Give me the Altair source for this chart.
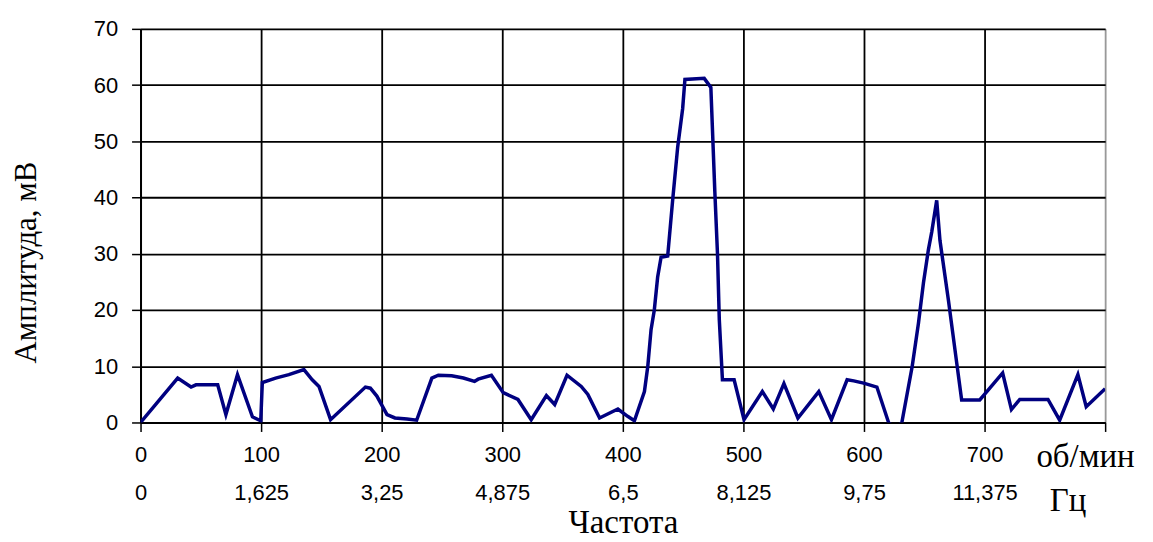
import altair as alt
import pandas as pd

# Frequency (rpm) and amplitude (mV)
freq_rpm = [0, 30.8, 41.9, 46, 64, 70.8, 80.4, 92.8, 99.7, 101, 112, 123, 135.5, 142.4, 148, 157.6,
            186.5, 190.6, 196, 204.4, 211, 221, 229, 241.6, 247, 258, 267.8, 277, 280, 291, 300.8,
            313, 324, 336.6, 343.5, 353.7, 365.5, 371, 380.7, 395.9, 404, 409.6, 417.9, 420.7,
            423.4, 426.1, 428.9, 431.7, 437.2, 441.3, 445.5, 449.6, 451.5, 467.5, 473, 476.3,
            478.5, 480, 482.6, 492.3, 500.5, 515.7, 524.8, 533.6, 545.2, 562.5, 573, 586, 591.5,
            599.7, 610.7, 620.4, 626, 631.4, 640, 645.2, 649.3, 653.4, 656.2, 660.3, 663, 670,
            676.9, 681, 696, 700.3, 715, 722.3, 729.2, 752.6, 762.3, 777.4, 784.3, 800]
amplitude = [0, 7.9, 6.3, 6.7, 6.7, 1.4, 8.5, 1.0, 0.3, 7.1, 7.9, 8.5, 9.4, 7.6, 6.4, 0.5,
             6.3, 6.1, 4.7, 1.4, 0.8, 0.6, 0.4, 7.9, 8.4, 8.3, 7.9, 7.3, 7.7, 8.4, 5.3,
             4.1, 0.5, 4.8, 3.2, 8.4, 6.4, 5.0, 0.8, 2.4, 1.1, 0.3, 5.5, 10,
             16.5, 20, 25.9, 29.4, 29.6, 39.5, 49, 55.8, 61, 61.2, 59.6, 41,
             30, 18.3, 7.6, 7.6, 0.5, 5.5, 2.4, 6.9, 0.8, 5.5, 0.5, 7.6, 7.4,
             7.0, 6.3, 0, -1, 0, 10, 17.7, 24.8, 30.7, 33.9, 39.5, 32.4, 21.8,
             10.6, 4.0, 4.0, 5.1, 8.8, 2.3, 4.1, 4.1, 0.4, 8.5, 2.8, 6.0]

rpm_ticks = [0, 100, 200, 300, 400, 500, 600, 700, 800]
rpm_labels = ["0", "100", "200", "300", "400", "500", "600", "700", ""]
hz_labels = ["0", "1,625", "3,25", "4,875", "6,5", "8,125", "9,75", "11,375", ""]
y_ticks = [0, 10, 20, 30, 40, 50, 60, 70]

unit_text = ["об/мин", "Гц"]
unit_x = [743, 754]
unit_row = [0, 1]

df = pd.DataFrame({"rpm": freq_rpm, "amp": amplitude})
units = pd.DataFrame({"t": unit_text, "x": unit_x, "row": unit_row})

label_expr = "".join(
    f"datum.value == {v} ? ['{r}', '{h}'] : " for v, r, h in zip(rpm_ticks, rpm_labels, hz_labels)
) + "''"

xscale = alt.Scale(domain=[0, 800], nice=False)

line = alt.Chart(df).mark_line(color="#000080", strokeWidth=3.5, clip=True).encode(
    x=alt.X("rpm:Q", scale=xscale, title="Частота",
            axis=alt.Axis(values=rpm_ticks, labelExpr=label_expr, labelLineHeight=38,
                          labelFont="Liberation Sans", labelFontSize=22, labelColor="black",
                          labelPadding=13, tickSize=9, tickColor="black", tickWidth=1.5,
                          domainColor="black", domainWidth=2,
                          gridColor={"condition": {"test": "datum.value == 800", "value": "#999999"},
                                     "value": "black"},
                          gridWidth=1.8,
                          titleFont="Liberation Serif", titleFontSize=33, titleFontWeight="normal",
                          titleColor="black", titleY=110, titleBaseline="alphabetic",
                          labelOverlap=False, labelFlush=False)),
    y=alt.Y("amp:Q", scale=alt.Scale(domain=[0, 70], nice=False), title="Амплитуда, мВ",
            axis=alt.Axis(values=y_ticks, labelFont="Liberation Sans", labelFontSize=22,
                          labelColor="black", labelPadding=14, tickSize=9, tickColor="black",
                          tickWidth=1.5, domainColor="black", domainWidth=2,
                          gridColor="black", gridWidth=1.8,
                          titleFont="Liberation Serif", titleFontSize=31, titleFontWeight="normal",
                          titleColor="black", titleAngle=270, titleX=-114, titleY=234,
                          titleAlign="center", titleBaseline="middle")),
)

unit_labels = alt.Chart(units).mark_text(
    font="Liberation Serif", fontSize=33, color="black", align="left", baseline="middle"
).encode(
    x=alt.X("x:Q", scale=xscale),
    y=alt.Y("row:Q", scale=alt.Scale(domain=[0, 1], range=[430, 474]), axis=None),
    text="t:N",
)

chart = alt.layer(line, unit_labels).resolve_scale(y="independent").properties(
    width=968, height=395,
    autosize=alt.AutoSizeParams(type="none"),
    padding={"left": 133, "top": 20, "right": 40, "bottom": 116},
).configure_view(stroke=None).configure(background="white")

chart.save("out.html", embed_options={"renderer": "svg", "actions": False})
